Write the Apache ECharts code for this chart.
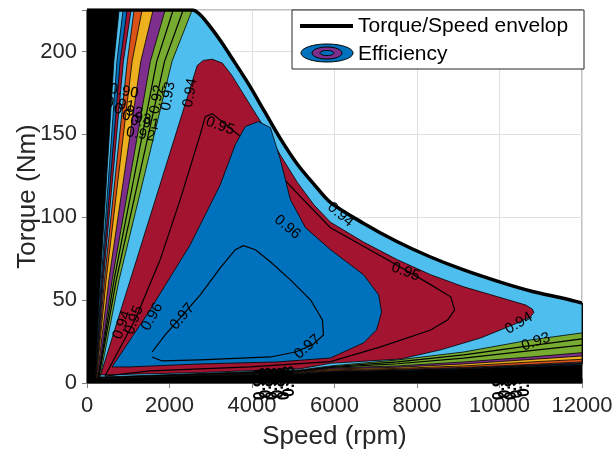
<!DOCTYPE html>
<html><head><meta charset="utf-8">
<script src="https://cdn.jsdelivr.net/npm/echarts@6/dist/echarts.min.js"></script>
<style>html,body{margin:0;padding:0;background:#fff}#c{width:616px;height:457px}</style>
</head><body><div id="c"></div>
<script>
// ---------- data (speed in rpm, torque in Nm) ----------
const xTicks = [0, 2000, 4000, 6000, 8000, 10000, 12000];
const yTicks = [0, 50, 100, 150, 200];

const envelopeSpeed  = [0, 2550, 2750, 3000, 3250, 3500, 3900, 4300, 4700, 5100, 5500, 5900, 6700, 7500, 8300, 9100, 10000, 10800, 11600, 12000];
const envelopeTorque = [225, 225, 222, 214.5, 206, 196.5, 181, 164, 147, 132, 120, 109, 96.4, 85.5, 76.3, 68.5, 61, 55.2, 50.8, 48.2];

// efficiency bands (outer -> inner) bounded by envelope
const bandColors       = ['#4DBEEE','#0072BD','#A2142F','#4DBEEE','#D95319','#EDB120','#7E2F8E','#77AC30','#4DBEEE'];
const bandCornerSpeed  = [200, 205, 210, 215, 219, 231, 243, 267, 316];
const bandCornerTorque = [2.4, 2.5, 2.6, 2.6, 2.7, 3.0, 3.0, 3.3, 3.6];
const leftEdgeTorques  = [62.2, 194, 225];
const bandMid1Speed    = [321, 345, 368, 395, 423, 464, 530, 610, 777];
const bandMid2Speed    = [651, 726, 804, 882, 977, 1093, 1304, 1537, 2060];
const bandTopSpeed     = [777, 874, 972, 1069, 1142, 1336, 1603, 1895, 2550];
const bottomSpeeds     = [2745, 5174, 5903, 7530, 9133, 10760, 12000];
const bandBottomTorque = [
  [4.4, 5.5, 6.6, 7.4, 8.4, 9.8, 11.0],
  [4.5, 5.6, 6.8, 7.6, 8.6, 10.1, 11.4],
  [4.6, 5.7, 6.9, 7.8, 8.8, 10.4, 11.8],
  [4.7, 5.8, 7.1, 8.0, 9.1, 10.8, 12.2],
  [4.8, 6.0, 7.3, 8.2, 9.4, 11.2, 12.7],
  [5.1, 6.3, 7.9, 8.8, 10.3, 12.7, 14.3],
  [5.3, 6.6, 8.4, 9.5, 11.5, 14.2, 16.3],
  [5.4, 6.9, 9.0, 10.3, 12.7, 15.7, 18.3],
  [5.7, 7.9, 10.3, 13.9, 18.7, 26.0, 30.2]
];
// two contour lines inside the green band
const greenLineCornerSpeed  = [276, 285];
const greenLineCornerTorque = [3.35, 3.4];
const greenLineMid1Speed    = [656, 710];
const greenLineMid2Speed    = [1690, 1880];
const greenLineTopSpeed     = [2089, 2332];
const greenLineBottomTorque = [
  [5.5, 7.3, 9.4, 11.6, 15.0, 19.5, 22.9],
  [5.6, 7.6, 9.8, 12.8, 17.0, 22.5, 26.6]
];

// red region (0.94 level)
const redSpeed  = [330, 2672, 2818, 3036, 3280, 3500, 3900, 4300, 4700, 5100, 5500, 5903, 6704, 7530, 8332, 9133, 9960, 10640, 10800, 10833, 10750, 10445, 9546, 8574, 7603, 5903, 5174, 2745];
const redTorque = [4.9, 191.5, 194.6, 195.3, 193, 186, 170, 154, 137, 121, 107.5, 97, 85, 74.3, 65.3, 58, 52, 47, 44.5, 42.5, 40, 36.3, 27.2, 20, 14.5, 11.9, 8.6, 6.3];
// 0.95 contour line
const c95Speed  = [437, 1166, 1773, 2259, 2745, 2866, 3036, 3668, 4445, 5174, 5903, 7287, 8259, 8817, 8914, 8744, 8332, 7117, 5903, 3959, 1530];
const c95Torque = [4.2, 38.1, 74.3, 110.6, 149.8, 160.7, 162.5, 149.8, 131.7, 112.4, 93.7, 74.3, 60.4, 52, 44.1, 38.1, 32, 21.8, 12.9, 9.7, 7.3];
// blue region (0.96 level)
const blueSpeed  = [607, 1530, 2502, 3231, 3595, 3838, 4154, 4445, 4688, 4931, 5295, 5903, 6704, 7068, 7141, 7020, 6704, 5903, 4615, 2745, 1044];
const blueTorque = [9.7, 44.1, 83.4, 119.6, 143.8, 154.7, 157.7, 154.1, 134.7, 110.6, 93.7, 80.4, 65.3, 53.2, 42.9, 32, 24.2, 15.1, 12.7, 11.5, 9.7];
// 0.97 contour line
const c97Speed  = [1579, 1895, 2259, 2745, 3231, 3595, 3789, 4081, 4445, 4931, 5417, 5708, 5732, 5465, 5052, 4445, 2745, 1822, 1579];
const c97Torque = [18.7, 29, 39.3, 53.2, 69.5, 80.4, 82.8, 80.4, 73.1, 62.2, 50.2, 38.1, 29, 23, 18.7, 15.7, 13.9, 13.3, 15.7];

// contour labels
const labelText   = ['0.94','0.93','0.92','0.95','0.96','0.94','0.95','0.94','0.93','0.97','0.97','0.96','0.95','0.94',
                     '0.91','0.92','0.93','0.91','0.90','0.92'];
const labelSpeed  = [2502, 1967, 1700, 3230, 4858, 6145, 7724, 10469, 10882, 2308, 5344, 1579, 1142, 850,
                     800, 1000, 1200, 1400, 900, 1300];
const labelTorque = [175, 173, 171, 155, 94, 101.5, 67, 36, 24.8, 40, 21.8, 40, 38, 35,
                     168, 164, 160, 157, 176, 150];
const labelAngle  = [80, 80, 80, -20, -40, -40, -20, 30, 20, 50, 40, 60, 70, 70,
                     -10, -10, -10, -10, -10, -10];
// clusters of overlapping labels that spill below the speed axis
const clusterText   = ['0.99','0.98','0.99','0.98','0.99','0.98','0.99','0.98','0.99','0.98','0.99'];
const clusterSpeed  = [4200, 4350, 4500, 4650, 4800, 4900, 10000, 10150, 10300, 10450, 10600];
const clusterTorque = [-1, 0, -1, 0, -1, 1, -1, 0, -1, 0, 1];

// ---------- build shapes ----------
const zip = (a, b) => a.map((v, i) => [v, b[i]]);
function bandPoly(i) {
  const pts = [[bandCornerSpeed[i], bandCornerTorque[i]], [bandMid1Speed[i], leftEdgeTorques[0]],
               [bandMid2Speed[i], leftEdgeTorques[1]], [bandTopSpeed[i], leftEdgeTorques[2]]];
  envelopeSpeed.forEach((s, k) => { if (s > bandTopSpeed[i]) pts.push([s, envelopeTorque[k]]); });
  for (let k = bottomSpeeds.length - 1; k >= 0; k--) pts.push([bottomSpeeds[k], bandBottomTorque[i][k]]);
  return pts;
}
function greenLine(j) {
  const pts = [[greenLineTopSpeed[j], leftEdgeTorques[2]], [greenLineMid2Speed[j], leftEdgeTorques[1]],
               [greenLineMid1Speed[j], leftEdgeTorques[0]], [greenLineCornerSpeed[j], greenLineCornerTorque[j]]];
  bottomSpeeds.forEach((s, k) => pts.push([s, greenLineBottomTorque[j][k]]));
  return pts;
}
const layers = [];
layers.push({kind:'poly', fill:'#000', pts: zip(envelopeSpeed, envelopeTorque).concat([[12000, 0], [0, 0]])});
for (let i = 0; i < bandColors.length; i++) {
  if (i === bandColors.length - 1) { layers.push({kind:'line', pts: greenLine(0)}); layers.push({kind:'line', pts: greenLine(1)}); }
  layers.push({kind:'poly', fill: bandColors[i], pts: bandPoly(i)});
}
layers.push({kind:'poly', fill:'#A2142F', pts: zip(redSpeed, redTorque)});
layers.push({kind:'line', pts: zip(c95Speed, c95Torque).concat([[c95Speed[0], c95Torque[0]]])});
layers.push({kind:'poly', fill:'#0072BD', pts: zip(blueSpeed, blueTorque)});
layers.push({kind:'line', pts: zip(c97Speed, c97Torque)});

const FONT = '"Liberation Sans", Arial, Helvetica, sans-serif';
const chart = echarts.init(document.getElementById('c'), null, {renderer: 'canvas'});
const axisCol = '#808080';
chart.setOption({
  animation: false,
  backgroundColor: '#fff',
  grid: {left: 87, right: 34, top: 10, bottom: 74, show: true, borderColor: axisCol, borderWidth: 1},
  xAxis: [{
    type: 'value', min: xTicks[0], max: xTicks[xTicks.length - 1], interval: xTicks[1] - xTicks[0],
    name: 'Speed (rpm)', nameLocation: 'middle', nameGap: 41, nameMoveOverlap: false,
    nameTextStyle: {fontSize: 26, color: '#262626', fontFamily: FONT},
    axisLine: {show: true, lineStyle: {color: axisCol, width: 1}},
    axisTick: {show: true, inside: true, length: 5, lineStyle: {color: axisCol}},
    axisLabel: {fontSize: 22, color: '#262626', fontFamily: FONT, margin: 12, formatter: v => String(v)},
    splitLine: {show: true, lineStyle: {color: '#e0e0e0', width: 1}}
  }, {
    type: 'value', position: 'top', min: 0, max: 12000, interval: 2000,
    axisLine: {show: true, lineStyle: {color: axisCol}}, axisTick: {show: true, inside: true, length: 5, lineStyle: {color: axisCol}},
    axisLabel: {show: false}, splitLine: {show: false}
  }],
  yAxis: [{
    type: 'value', min: 0, max: 225, interval: yTicks[1] - yTicks[0],
    name: 'Torque (Nm)', nameLocation: 'middle', nameGap: 46, nameMoveOverlap: false,
    nameTextStyle: {fontSize: 26, color: '#262626', fontFamily: FONT},
    axisLine: {show: true, lineStyle: {color: axisCol, width: 1}},
    axisTick: {show: true, inside: true, length: 5, lineStyle: {color: axisCol}},
    axisLabel: {fontSize: 22, color: '#262626', fontFamily: FONT, margin: 10, showMaxLabel: false, formatter: v => String(v)},
    splitLine: {show: true, lineStyle: {color: '#e0e0e0', width: 1}}
  }, {
    type: 'value', position: 'right', min: 0, max: 225, interval: 50,
    axisLine: {show: true, lineStyle: {color: axisCol}}, axisTick: {show: true, inside: true, length: 5, lineStyle: {color: axisCol}},
    axisLabel: {show: false}, splitLine: {show: false}
  }],
  series: [{
    type: 'custom', silent: true, z: 2,
    data: layers.map((_, i) => [i, 0]),
    renderItem: function (params, api) {
      const L = layers[params.dataIndex];
      const points = L.pts.map(p => api.coord(p));
      if (L.kind === 'poly') {
        return {type: 'polygon', shape: {points: points}, style: {fill: L.fill, stroke: '#000', lineWidth: 0.8}};
      }
      return {type: 'polyline', shape: {points: points}, style: {fill: null, stroke: '#000', lineWidth: 1.2}};
    }
  }, {
    type: 'custom', silent: true, z: 3,
    data: zip(labelSpeed, labelTorque),
    renderItem: function (params, api) {
      const c = api.coord([api.value(0), api.value(1)]);
      const i = params.dataIndex;
      return {type: 'text', x: c[0], y: c[1], rotation: labelAngle[i] * Math.PI / 180,
        style: {text: labelText[i], fill: '#000', fontSize: 15, fontFamily: FONT, align: 'center', verticalAlign: 'middle'}};
    }
  }, {
    type: 'custom', silent: true, z: 3,
    data: zip(clusterSpeed, clusterTorque),
    renderItem: function (params, api) {
      const c = api.coord([api.value(0), api.value(1)]);
      const i = params.dataIndex;
      return {type: 'text', x: c[0], y: c[1], rotation: Math.PI / 2,
        style: {text: clusterText[i], fill: '#000', fontSize: 16, fontWeight: 'bold', fontFamily: FONT, align: 'center', verticalAlign: 'middle'}};
    }
  }, {
    type: 'line', name: 'Torque/Speed envelop', z: 4, silent: true,
    data: zip(envelopeSpeed, envelopeTorque), symbol: 'none', smooth: 0.3,
    lineStyle: {color: '#000', width: 3.5}
  }],
  graphic: [
    {type: 'rect', z: 100, shape: {x: 292, y: 10, width: 292, height: 59}, style: {fill: '#fff', stroke: '#262626', lineWidth: 1}},
    {type: 'line', z: 101, shape: {x1: 300, y1: 26, x2: 353, y2: 26}, style: {stroke: '#000', lineWidth: 4}},
    {type: 'text', z: 101, x: 358, y: 26, style: {text: 'Torque/Speed envelop', fill: '#000', fontSize: 21, fontFamily: FONT, verticalAlign: 'middle'}},
    {type: 'ellipse', z: 101, shape: {cx: 327, cy: 53, rx: 26, ry: 9}, style: {fill: '#0072BD', stroke: '#000', lineWidth: 1}},
    {type: 'ellipse', z: 102, shape: {cx: 327, cy: 53, rx: 15, ry: 6}, style: {fill: '#7E2F8E', stroke: '#000', lineWidth: 1}},
    {type: 'ellipse', z: 103, shape: {cx: 327, cy: 53, rx: 7, ry: 2.5}, style: {fill: '#0072BD', stroke: '#000', lineWidth: 1}},
    {type: 'text', z: 101, x: 358, y: 54, style: {text: 'Efficiency', fill: '#000', fontSize: 21, fontFamily: FONT, verticalAlign: 'middle'}}
  ]
});
</script></body></html>
